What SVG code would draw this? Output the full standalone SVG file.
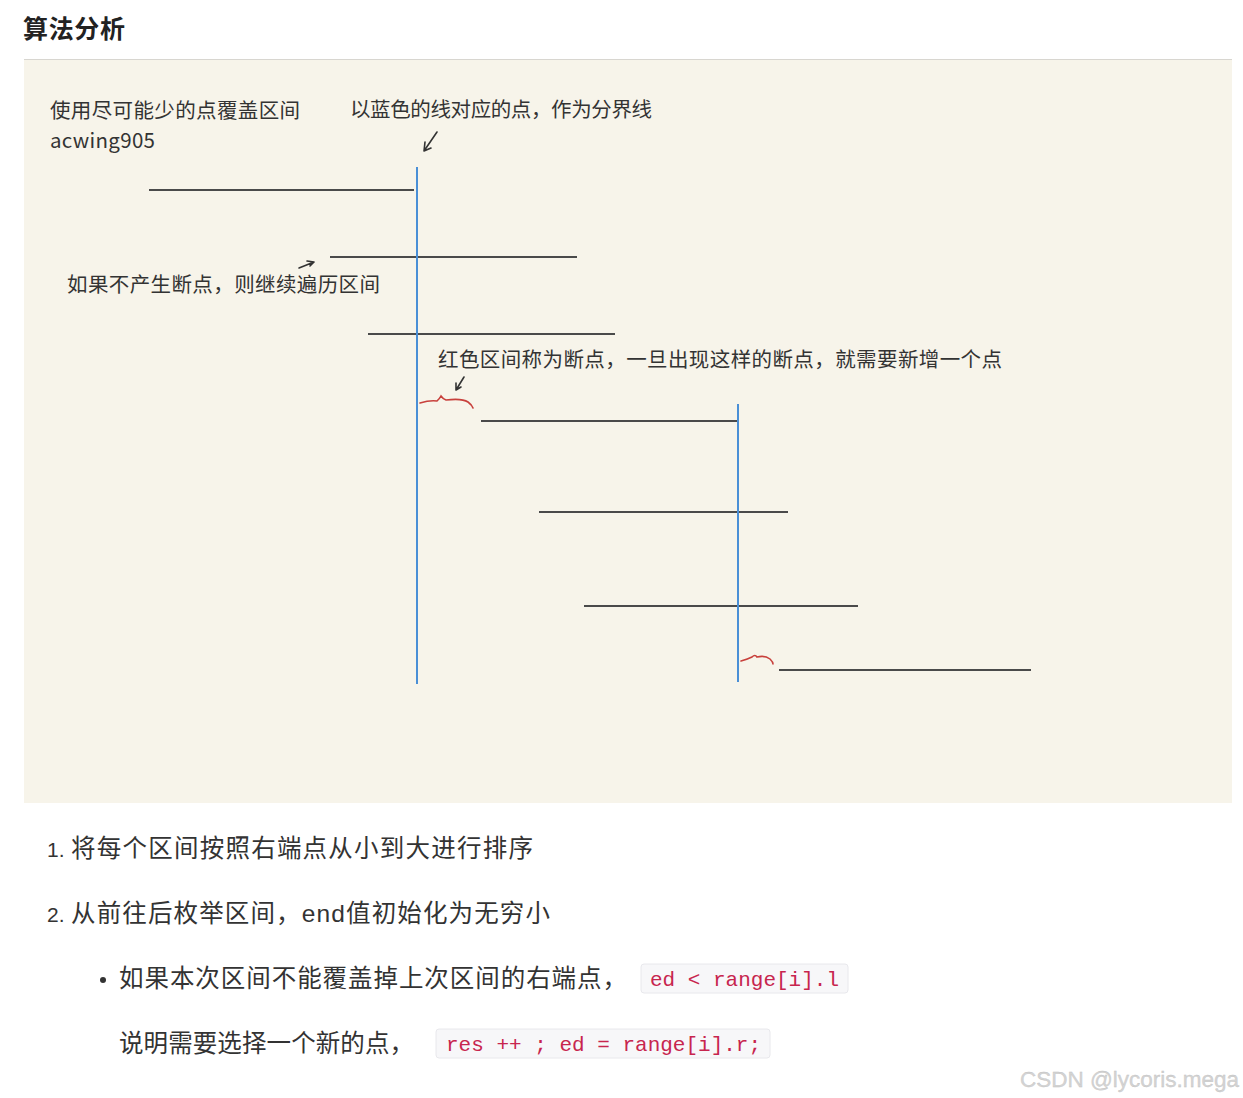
<svg xmlns="http://www.w3.org/2000/svg" width="1243" height="1098" viewBox="0 0 1243 1098">
<style>
.hand{font-family:"Noto Sans CJK SC","Noto Sans",sans-serif;font-size:20.5px;fill:#333}
.body{font-family:"Noto Sans CJK SC","Liberation Sans",sans-serif;font-size:24.5px;fill:#333}
.num{font-family:"Liberation Sans",sans-serif;font-size:21px;fill:#333}
.code{font-family:"Liberation Mono","DejaVu Sans Mono",monospace;font-size:21px;fill:#c7254e}
.seg{stroke:#4a4a4a;stroke-width:2;fill:none}
.blue{stroke:#4a8fd6;stroke-width:2;fill:none}
.red{stroke:#c8403c;stroke-width:1.6;fill:none;stroke-linecap:round}
.arr{stroke:#333;stroke-width:1.6;fill:none;stroke-linecap:round}
.box{fill:#f7f7f9;stroke:#e8e8ec;stroke-width:1}
</style>
<rect width="1243" height="1098" fill="#ffffff"/>
<text x="23" y="38" font-family="Noto Sans CJK SC,sans-serif" font-size="25" font-weight="bold" fill="#222" textLength="102" lengthAdjust="spacing">算法分析</text>
<rect x="24" y="59" width="1208" height="744" fill="#f7f4ea"/>
<line x1="24" y1="59.5" x2="1232" y2="59.5" stroke="#d8d6d0" stroke-width="1"/>
<text class="hand" x="50" y="118" textLength="250" lengthAdjust="spacing">使用尽可能少的点覆盖区间</text>
<text class="hand" x="50" y="148" font-family="Liberation Sans,sans-serif" textLength="105" lengthAdjust="spacing">acwing905</text>
<text class="hand" x="350" y="117" textLength="302" lengthAdjust="spacing">以蓝色的线对应的点，作为分界线</text>
<path class="arr" d="M437 132 L424 151 M424 151 L425 142 M424 151 L431 148"/>
<line class="seg" x1="149" y1="190" x2="414" y2="190"/>
<line class="seg" x1="330" y1="257" x2="577" y2="257"/>
<line class="seg" x1="368" y1="334" x2="615" y2="334"/>
<line class="seg" x1="481" y1="421" x2="738" y2="421"/>
<line class="seg" x1="539" y1="512" x2="788" y2="512"/>
<line class="seg" x1="584" y1="606" x2="858" y2="606"/>
<line class="seg" x1="779" y1="670" x2="1031" y2="670"/>
<line class="blue" x1="417" y1="167" x2="417" y2="684"/>
<line class="blue" x1="738" y1="404" x2="738" y2="682"/>
<text class="hand" x="67" y="292" textLength="313" lengthAdjust="spacing">如果不产生断点，则继续遍历区间</text>
<path class="arr" d="M299 268 L314 262 M314 262 L307 261 M314 262 L310 266"/>
<text class="hand" x="438" y="367" textLength="564" lengthAdjust="spacing">红色区间称为断点，一旦出现这样的断点，就需要新增一个点</text>
<path class="arr" d="M464 377 L456 390 M456 390 L456 383 M456 390 L461 387"/>
<path class="red" d="M420 403 Q430 400 437 401 Q440 398 441 396 Q443 399 446 400 Q462 398 468 402 Q472 405 473 408"/>
<path class="red" d="M741 661 Q748 659 752 657 Q755 654 757 657 Q765 655 770 659 Q773 662 773 664"/>
<text class="num" x="47" y="857">1.</text>
<text class="body" x="71" y="857" textLength="462" lengthAdjust="spacing">将每个区间按照右端点从小到大进行排序</text>
<text class="num" x="47" y="922">2.</text>
<text class="body" x="71" y="922" textLength="479" lengthAdjust="spacing">从前往后枚举区间，<tspan font-family="Liberation Sans,sans-serif">end</tspan>值初始化为无穷小</text>
<circle cx="103" cy="980" r="3" fill="#333"/>
<text class="body" x="119" y="987" textLength="508" lengthAdjust="spacing">如果本次区间不能覆盖掉上次区间的右端点，</text>
<rect class="box" x="641" y="964" width="207" height="29" rx="3"/>
<text class="code" x="650" y="986">ed &lt; range[i].l</text>
<text class="body" x="119" y="1052" textLength="295" lengthAdjust="spacing">说明需要选择一个新的点，</text>
<rect class="box" x="436" y="1029" width="334" height="29" rx="3"/>
<text class="code" x="446" y="1051">res ++ ; ed = range[i].r;</text>
<text x="1020" y="1087" font-family="Liberation Sans,sans-serif" font-size="22.5" fill="#d4d4d4" stroke="#c0c0c0" stroke-width="0.3">CSDN @lycoris.mega</text>
</svg>
